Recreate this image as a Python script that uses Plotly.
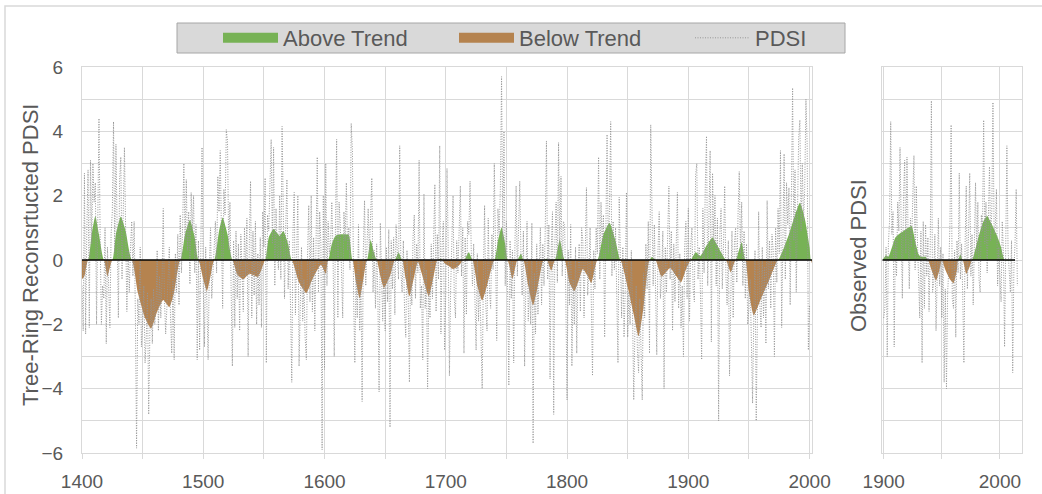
import plotly.graph_objects as go

# ---------------- DATA ----------------
recon_start = 1400
recon_pdsi = [
    -0.8, -2.2, 2.7, -2.3, 1.0, 2.8, -2.1, 3.1, 0.5, 3.0,        # 1400s
    1.8, 2.4, -2.0, 2.2, 4.4, 0.6, -2.0, -0.8, -1.2, 1.0,        # 1410s
    -2.6, 0.4, -1.1, -2.1, 0.8, 1.5, 4.3, 0.2, 3.6, 1.0,         # 1420s
    -1.8, 2.5, 3.2, -0.6, 1.4, 3.5, 0.9, -1.6, 0.3, -1.0,        # 1430s
    0.4, 1.2, -0.5, 1.2, -1.6, -5.85, -1.2, -2.0, 0.4, -2.7,     # 1440s
    -1.9, -0.8, -3.2, -2.4, -1.0, -4.8, -2.2, -1.2, -2.6, -0.9,  # 1450s
    -2.0, -1.5, 0.3, -2.2, -0.5, -1.8, -0.6, 1.6, -1.2, -2.3,    # 1460s
    -1.5, -0.7, 0.4, -1.8, -2.9, -0.6, -3.1, 0.2, -1.0, 0.8,     # 1470s
    -1.4, 1.4, -0.4, 1.1, 3.0, 0.6, 2.5, 0.3, 1.5, -0.75,        # 1480s
    2.1, 0.9, 2.0, -0.4, 1.1, -3.1, 0.6, -2.8, 0.9, 3.5,         # 1490s
    -0.8, -2.7, 0.4, -1.5, -3.1, -0.3, 1.0, -1.2, -0.2, 0.5,     # 1500s
    1.2, -0.4, 2.6, 1.5, 3.4, 0.8, -1.5, 2.2, 1.4, 4.05,         # 1510s
    3.7, 0.3, 1.8, -1.0, -3.3, 0.6, -2.1, 0.9, -1.2, 0.5,        # 1520s
    -2.2, 0.8, -0.9, -1.6, 1.0, -0.5, 1.3, -3.0, 0.6, 2.45,      # 1530s
    -1.8, 0.9, -1.1, 1.2, -2.0, 0.2, -1.4, 0.7, -2.1, 1.5,       # 1540s
    0.4, 2.55, -3.2, 1.4, 0.9, 2.2, 3.75, 0.5, 3.5, -0.8,        # 1550s
    1.6, 0.3, -0.3, 2.0, -0.6, 4.15, 0.8, -1.2, 1.0, 2.5,        # 1560s
    -0.9, 0.6, -1.5, -3.8, 0.9, 2.1, -1.7, 0.5, 2.0, -3.3,       # 1570s
    -0.8, 0.4, -1.9, -0.6, -2.4, -3.1, 0.2, 1.7, -1.3, 2.0,      # 1580s
    -1.6, 0.7, -2.2, 1.3, 3.2, -1.0, 1.5, 0.5, -5.9, 2.0,        # 1590s
    -3.4, 3.0, -0.8, 1.2, 0.2, 0.5, 1.8, 0.3, -3.0, 1.0,         # 1600s
    3.75, -1.8, 1.8, 1.1, -0.2, -1.8, 1.5, 0.6, 2.4, 0.3,        # 1610s
    1.0, -0.3, 4.25, 3.4, -1.2, -3.2, -0.4, -1.8, 1.1, -2.2,     # 1620s
    -0.6, -4.4, 0.3, 1.85, -0.8, 0.4, 1.6, 0.2, 1.2, 2.55,       # 1630s
    -1.0, 0.3, -1.5, 0.5, -1.2, -4.1, 1.15, -0.6, -1.9, -0.3,    # 1640s
    -2.2, 0.4, -1.3, 0.95, -5.2, 0.6, -0.9, 0.7, -1.7, 1.1,      # 1650s
    0.2, -0.6, 3.55, -0.4, -1.0, 0.6, -1.6, -2.4, 0.3, -1.2,     # 1660s
    -3.8, -0.2, -1.4, 0.7, 1.4, -1.2, 0.5, -0.4, 3.1, -1.5,      # 1670s
    -0.8, -3.1, 2.05, -1.5, -0.3, -4.0, -0.9, -1.8, 0.5, -1.2,   # 1680s
    0.6, 2.35, -1.6, 0.8, -0.6, 3.55, -2.3, 0.5, 1.2, -2.8,      # 1690s
    -1.0, 2.85, 0.4, -3.6, -0.9, 0.8, 2.0, -1.2, -1.8, 0.6,      # 1700s
    -0.4, 0.9, 2.3, -0.5, 1.0, -2.9, 0.7, -1.7, 1.2, 0.8,        # 1710s
    2.45, 0.3, -0.8, 0.5, -1.5, -2.8, 0.2, -1.9, -0.6, -2.2,     # 1720s
    -4.0, -0.5, 1.7, -1.4, -2.2, 1.3, -0.9, -1.5, 0.8, -0.3,     # 1730s
    3.0, 0.4, -2.5, 1.6, 0.8, 2.2, 5.7, 0.6, 4.0, -0.8,          # 1740s
    1.2, -0.9, -3.9, 0.6, -1.2, 0.3, -3.2, 0.4, 2.3, -0.5,       # 1750s
    0.8, 2.45, 0.1, -1.1, 0.9, -3.3, -0.8, 1.2, -1.9, -0.6,      # 1760s
    -2.0, 1.15, -5.7, -0.4, -2.3, 0.5, -1.7, -0.2, 1.0, -1.4,    # 1770s
    0.5, -0.8, 0.9, 3.7, -0.6, 1.1, -3.7, 0.4, 1.5, -4.8,        # 1780s
    0.6, 1.8, -0.7, 3.65, 0.3, 2.6, -0.5, 1.2, 1.1, -1.2,        # 1790s
    -4.35, 0.3, -1.4, 1.1, -3.3, -0.6, -2.0, 0.4, -2.9, -0.4,    # 1800s
    0.5, -1.6, 1.0, 0.6, -1.8, 0.2, 2.25, -1.1, -0.4, 1.0,       # 1810s
    -1.2, -3.6, 0.3, -0.9, 1.0, 0.2, 3.2, -0.6, 1.8, 0.5,        # 1820s
    1.4, -2.4, 0.9, 3.9, 0.2, 1.6, 4.3, -0.5, 1.2, -0.3,         # 1830s
    1.0, -0.8, -3.2, 1.95, -0.6, -1.8, 0.4, -2.4, -0.9, 2.1,     # 1840s
    -2.4, -1.0, -2.0, 0.3, -1.6, -4.35, -2.1, -0.8, -2.8, -3.5,  # 1850s
    -1.2, -2.5, -4.35, -0.4, -1.8, 0.5, -0.9, 1.2, -2.9, 4.2,    # 1860s
    0.6, -0.8, 1.1, -1.4, -2.95, 0.3, 1.5, -1.2, -0.5, 0.9,      # 1870s
    -4.0, 0.4, -1.0, 0.8, 2.3, -0.6, 0.9, -2.2, 0.5, -1.3,       # 1880s
    0.3, 2.1, -1.5, 0.2, -2.1, -0.8, -3.0, 0.4, 1.2, -1.2,       # 1890s
    1.6, -1.9, 0.5, 1.0, -0.9, -1.3, 2.65, 3.0, -0.6, 0.4,       # 1900s
    -1.0, -3.1, 1.6, -0.4, 2.3, 3.85, -0.8, 0.9, 3.4, -2.55,     # 1910s
    2.7, 0.5, 2.0, -0.8, 1.3, -5.0, 0.8, 1.6, -0.9, 0.4,         # 1920s
    2.3, -0.5, -1.4, 0.6, -3.6, -1.2, 0.9, -1.8, 0.5, 1.0,       # 1930s
    -0.7, 1.4, 2.75, 0.2, 1.8, -0.8, 0.9, -1.2, 0.5, -2.0,       # 1940s
    -1.5, -0.6, -2.4, -4.45, -1.8, 0.3, -5.0, -2.2, 1.5, -1.4,   # 1950s
    -2.1, 0.4, -1.8, -0.2, -2.6, 1.85, -0.9, 0.6, -1.5, 0.8,     # 1960s
    0.3, -3.0, 1.0, -0.7, 1.6, 0.2, 3.4, -2.1, 0.8, 3.3,         # 1970s
    -0.6, 2.4, 1.1, 2.25, -1.4, 1.9, 5.35, 0.6, 2.8, -1.0,       # 1980s
    1.5, 3.8, 4.35, 0.9, 3.0, 1.2, 2.2, 5.0, 3.6, -2.8,          # 1990s
    -1.4,                                                        # 2000
]

recon_trend_years = [
    1400, 1402, 1405, 1408, 1411, 1414, 1418, 1421, 1425, 1428, 1432, 1436,
    1441, 1446, 1452, 1457, 1462, 1467, 1472, 1476, 1481, 1485, 1489, 1493,
    1496, 1500, 1503, 1506, 1509, 1513, 1516, 1520, 1524, 1528, 1533, 1538,
    1545, 1548, 1551, 1554, 1558, 1563, 1566, 1570, 1573, 1579, 1585, 1590,
    1597, 1601, 1603, 1606, 1609, 1614, 1620, 1623, 1626, 1629, 1632, 1635,
    1638, 1641, 1643, 1646, 1649, 1654, 1658, 1661, 1664, 1667, 1670, 1674,
    1677, 1680, 1686, 1690, 1693, 1696, 1699, 1703, 1706, 1710, 1715, 1719,
    1722, 1726, 1730, 1734, 1740, 1743, 1746, 1749, 1751, 1755, 1759, 1762,
    1764, 1768, 1772, 1776, 1780, 1783, 1787, 1790, 1794, 1798, 1802, 1806,
    1810, 1813, 1817, 1820, 1825, 1830, 1835, 1840, 1844, 1850, 1855, 1859,
    1863, 1868, 1870, 1873, 1878, 1885, 1890, 1894, 1898, 1902, 1906, 1910,
    1915, 1920, 1924, 1927, 1931, 1935, 1939, 1944, 1947, 1950, 1954, 1960,
    1967, 1974, 1979, 1983, 1988, 1992, 1996, 2000, 2001, 2002,
]
recon_trend_values = [
    -0.6, -0.5, 0.0, 0.8, 1.37, 0.8, 0.0, -0.5, 0.0, 0.8, 1.35, 0.9,
    0.0, -1.0, -1.8, -2.13, -1.6, -1.24, -1.46, -1.0, 0.0, 0.8, 1.24, 0.7,
    0.0, -0.6, -0.97, -0.5, 0.0, 0.9, 1.32, 0.8, 0.0, -0.45, -0.6, -0.43,
    -0.52, -0.3, 0.0, 0.7, 0.96, 0.75, 0.9, 0.5, 0.0, -0.7, -1.03, -0.6,
    -0.15, -0.43, 0.0, 0.5, 0.75, 0.8, 0.78, 0.0, -0.7, -1.2, -0.6, 0.0,
    0.62, 0.2, 0.0, -0.5, -0.87, -0.5, 0.0, 0.24, 0.0, -0.6, -1.13, -0.5,
    -0.05, -0.4, -1.13, -0.5, 0.0, 0.05, -0.1, -0.2, -0.28, -0.2, 0.0, 0.24,
    0.0, -0.8, -1.26, -0.8, 0.0, 0.6, 1.01, 0.5, 0.0, -0.59, 0.0, 0.2,
    0.0, -0.8, -1.41, -0.8, -0.05, 0.05, -0.33, 0.0, 0.63, 0.0, -0.7, -0.97,
    -0.6, -0.28, -0.5, -0.72, 0.0, 0.8, 1.16, 0.6, 0.0, -0.85, -1.7, -2.37,
    -1.5, 0.0, 0.1, 0.0, -0.52, -0.25, -0.5, -0.69, -0.3, 0.0, 0.24, 0.13,
    0.45, 0.7, 0.45, 0.24, 0.0, -0.38, 0.0, 0.55, 0.0, -1.0, -1.72, -1.2,
    -0.6, 0.0, 0.4, 0.8, 1.4, 1.78, 1.3, 0.4, 0.0, -0.1,
]

obs_start = 1900
obs_pdsi = [
    -1.8, -1.5, 0.4, -3.0, 0.5, 1.2, 4.3, 0.8, 1.5, -2.7,        # 1900s
    0.6, -0.5, 1.8, 0.9, 3.5, 0.3, -1.2, 1.9, 3.1, 0.2,          # 1910s
    3.2, 0.7, -0.9, 1.3, 0.4, 2.0, 3.25, -0.3, 2.3, 0.6,         # 1920s
    -0.4, -1.8, 0.9, -3.2, 1.2, -1.5, 1.1, -0.5, 0.7, -1.6,      # 1930s
    0.3, 4.95, -1.0, -0.7, 0.8, -2.2, -0.6, 1.3, -0.8, 0.4,      # 1940s
    -1.8, 0.2, -3.8, -0.9, -4.0, -1.0, -0.3, 1.2, 4.2, -1.2,     # 1950s
    -1.5, 0.3, -2.4, 0.6, -0.4, 2.7, -0.6, 0.5, -1.1, -3.2,      # 1960s
    0.4, 2.3, -0.9, 1.0, 2.7, -0.5, 0.8, -1.4, 0.5, 2.4,         # 1970s
    0.2, 1.8, -0.6, -1.0, 1.4, 0.9, 4.35, 0.5, 1.8, -0.4,        # 1980s
    1.2, 2.9, 0.6, 1.5, 4.9, 0.8, 1.0, 2.2, -0.8, 0.4,           # 1990s
    -0.5, -1.3, 1.2, 0.3, -2.7, 1.0, 3.55, 0.3, -0.6, -1.0,      # 2000s
    0.6, -3.5, -0.3, 0.5, 2.2, -0.8,                             # 2010s
]

obs_trend_years = [
    1899, 1902, 1904, 1907, 1910, 1913, 1917, 1921, 1924, 1927, 1930, 1932,
    1936, 1938, 1942, 1945, 1948, 1950, 1953, 1957, 1960, 1963, 1964, 1966,
    1968, 1971, 1974, 1976, 1980, 1983, 1986, 1989, 1993, 1997, 2001, 2004,
    2013,
]
obs_trend_values = [
    0.0, 0.15, 0.1, 0.39, 0.7, 0.8, 0.9, 1.0, 1.06, 0.6, 0.18, 0.1,
    0.1, 0.0, -0.4, -0.64, -0.3, 0.0, -0.3, -0.6, -0.72, -0.3, 0.0, 0.18,
    0.0, -0.43, -0.2, 0.0, 0.5, 0.9, 1.22, 1.37, 1.11, 0.8, 0.4, 0.0,
    0.0,
]

x_ticks_recon = [1400, 1500, 1600, 1700, 1800, 1900, 2000]
x_ticks_obs = [1900, 2000]
y_ticks = [-6, -4, -2, 0, 2, 4, 6]

# ---------------- STYLE ----------------
GREEN = "#77b255"
BROWN = "#b5834f"
PDSI_COL = "#969696"
GRID = "#d9d9d9"
TXT = "#595959"
FONT = "Liberation Sans, Arial, sans-serif"
W, H = 1042, 494


def split_sign(xs, ys):
    xo, yo = [], []
    for i in range(len(xs)):
        if i > 0 and ((ys[i - 1] < 0 < ys[i]) or (ys[i - 1] > 0 > ys[i])):
            t = ys[i - 1] / (ys[i - 1] - ys[i])
            xo.append(xs[i - 1] + t * (xs[i] - xs[i - 1]))
            yo.append(0.0)
        xo.append(xs[i])
        yo.append(ys[i])
    pos = [max(v, 0.0) for v in yo]
    neg = [min(v, 0.0) for v in yo]
    return xo, pos, neg


fig = go.Figure()

panels = [
    ("x", "y", recon_start, recon_pdsi, recon_trend_years, recon_trend_values),
    ("x2", "y2", obs_start, obs_pdsi, obs_trend_years, obs_trend_values),
]
for xa, ya, start, pdsi, ty, tv in panels:
    xo, pos, neg = split_sign(ty, tv)
    fig.add_trace(go.Scatter(
        x=xo, y=pos, xaxis=xa, yaxis=ya, mode="lines", name="Above Trend",
        line=dict(width=0, color=GREEN, shape="spline", smoothing=0.5),
        fill="tozeroy", fillcolor=GREEN, showlegend=False, hoverinfo="skip"))
    fig.add_trace(go.Scatter(
        x=xo, y=neg, xaxis=xa, yaxis=ya, mode="lines", name="Below Trend",
        line=dict(width=0, color=BROWN, shape="spline", smoothing=0.5),
        fill="tozeroy", fillcolor=BROWN, showlegend=False, hoverinfo="skip"))
    years = list(range(start, start + len(pdsi)))
    fig.add_trace(go.Scatter(
        x=years, y=pdsi, xaxis=xa, yaxis=ya, mode="lines", name="PDSI",
        line=dict(width=1, color=PDSI_COL, dash="1px,1.5px"),
        showlegend=False))
    fig.add_trace(go.Scatter(
        x=[min(ty[0], years[0]), ty[-1]],
        y=[0, 0], xaxis=xa, yaxis=ya, mode="lines",
        line=dict(width=1.6, color="black"), showlegend=False, hoverinfo="skip"))

# legend entries (swatches)
fig.add_trace(go.Scatter(x=[None], y=[None], mode="lines", name="Above Trend",
                         line=dict(width=11, color=GREEN)))
fig.add_trace(go.Scatter(x=[None], y=[None], mode="lines", name="Below Trend",
                         line=dict(width=11, color=BROWN)))
fig.add_trace(go.Scatter(x=[None], y=[None], mode="lines", name="PDSI",
                         line=dict(width=1, color=PDSI_COL, dash="1px,1.5px")))

ydom = [1 - 453 / H, 1 - 67 / H]
axis_common = dict(showgrid=True, gridcolor=GRID, gridwidth=1, zeroline=False,
                   showline=True, linecolor=GRID, linewidth=1, mirror=True,
                   tickfont=dict(family=FONT, size=19, color=TXT))

fig.update_layout(
    width=W, height=H,
    margin=dict(l=0, r=0, t=0, b=0, autoexpand=False),
    paper_bgcolor="white", plot_bgcolor="white",
    font=dict(family=FONT, color=TXT),
    xaxis=dict(domain=[82 / W, 812 / W], range=[1400, 2002],
               tickvals=x_ticks_recon, ticks="outside", ticklen=5, tickcolor=GRID,
               ticklabelstandoff=6,
               minor=dict(dtick=50, tick0=1400, showgrid=True, gridcolor=GRID,
                          ticks="outside", ticklen=5, tickcolor=GRID),
               **axis_common),
    yaxis=dict(domain=ydom, range=[-6, 6], tickvals=y_ticks, ticks="",
               ticklabelstandoff=14,
               minor=dict(dtick=1, tick0=0, showgrid=True, gridcolor=GRID),
               **axis_common),
    xaxis2=dict(domain=[882 / W, 1022 / W], range=[1898.5, 2019], anchor="y2",
                tickvals=x_ticks_obs, ticks="outside", ticklen=5, tickcolor=GRID,
                ticklabelstandoff=6,
                minor=dict(dtick=50, tick0=1900, showgrid=True, gridcolor=GRID,
                           ticks="outside", ticklen=5, tickcolor=GRID),
                **axis_common),
    yaxis2=dict(domain=ydom, range=[-6, 6], anchor="x2", tickvals=y_ticks,
                showticklabels=False, ticks="",
                minor=dict(dtick=1, tick0=0, showgrid=True, gridcolor=GRID),
                **axis_common),
    legend=dict(orientation="h", x=218 / W, xanchor="left", y=1 - 38 / H,
                yanchor="middle", bgcolor="rgba(0,0,0,0)", borderwidth=0,
                itemwidth=55, entrywidth=166,
                font=dict(family=FONT, size=22, color=TXT),
                traceorder="normal"),
    annotations=[
        dict(text="Tree-Ring Reconsrtucted PDSI", x=30 / W, y=1 - 255 / H,
             xref="paper", yref="paper", textangle=-90, showarrow=False,
             font=dict(family=FONT, size=22, color=TXT), xanchor="center",
             yanchor="middle"),
        dict(text="Observed PDSI", x=858 / W, y=1 - 256 / H,
             xref="paper", yref="paper", textangle=-90, showarrow=False,
             font=dict(family=FONT, size=22, color=TXT), xanchor="center",
             yanchor="middle"),
    ],
    shapes=[
        dict(type="rect", xref="paper", yref="paper", x0=5 / W, x1=1.05,
             y0=-0.05, y1=1 - 6 / H, line=dict(color=GRID, width=1.5),
             fillcolor="rgba(0,0,0,0)", layer="below"),
        dict(type="rect", xref="paper", yref="paper", x0=177 / W, x1=845 / W,
             y0=1 - 53 / H, y1=1 - 23 / H, line=dict(color="#a6a6a6", width=1),
             fillcolor="#d9d9d9", layer="below"),
    ],
)

fig.write_html("out.html")
